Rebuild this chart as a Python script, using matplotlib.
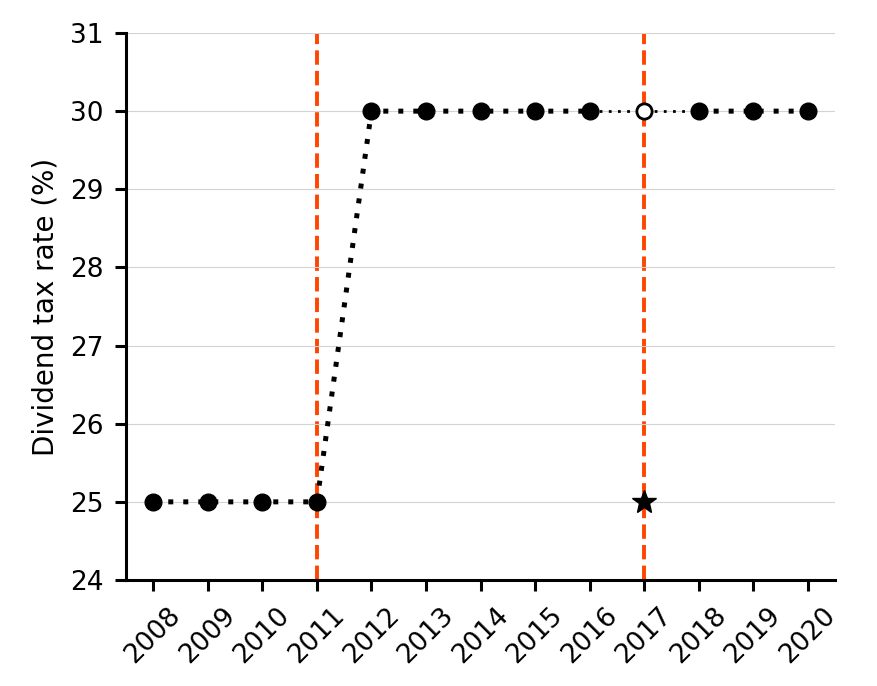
import numpy as np
import matplotlib.pyplot as plt

# Data
years = np.arange(2008, 2021)
tax_rate = [25, 25, 25, 25, 30, 30, 30, 30, 30, np.nan, 30, 30, 30]
bridge_years = [2016, 2017, 2018]
bridge_rate = [30, 30, 30]
open_year = [2017]
open_rate = [30]
star_year = [2017]
star_rate = [25]
event_years = [2011, 2017]
y_ticks = [24, 25, 26, 27, 28, 29, 30, 31]

fig = plt.figure(figsize=(8.77, 6.86), dpi=100)
ax = fig.add_axes([126 / 877, 1 - 580 / 686, 709 / 877, 547 / 686])

ax.grid(axis='y', color='#d3d3d3', linewidth=0.8, zorder=0)
for yr in event_years:
    ax.axvline(yr, color='#ff4500', linestyle='--', linewidth=2.8, zorder=1)

ax.plot(bridge_years, bridge_rate, color='black', linestyle=':', linewidth=2,
        dashes=(1, 2.3), zorder=2)
ax.plot(years, tax_rate, color='black', linestyle=':', linewidth=3.6, dashes=(1, 2),
        marker='o', markersize=12, zorder=3)
ax.plot(open_year, open_rate, linestyle='none', marker='o', markersize=11,
        markerfacecolor='white', markeredgecolor='black', markeredgewidth=2, zorder=4)
ax.plot(star_year, star_rate, linestyle='none', marker='*', markersize=18,
        color='black', zorder=4)

ax.set_xlim(2007.5, 2020.5)
ax.set_ylim(24, 31)
ax.tick_params(length=8, width=2.2, pad=8)
ax.set_xticks(years)
ax.set_xticklabels([str(y) for y in years], rotation=45, fontsize=19)
ax.set_yticks(y_ticks)
ax.set_yticklabels([str(v) for v in y_ticks], fontsize=19)
ax.set_ylabel('Dividend tax rate (%)', fontsize=20, labelpad=8)
for s in ['top', 'right']:
    ax.spines[s].set_visible(False)
for s in ['left', 'bottom']:
    ax.spines[s].set_linewidth(2.2)

fig.savefig('out.png', dpi=100)
